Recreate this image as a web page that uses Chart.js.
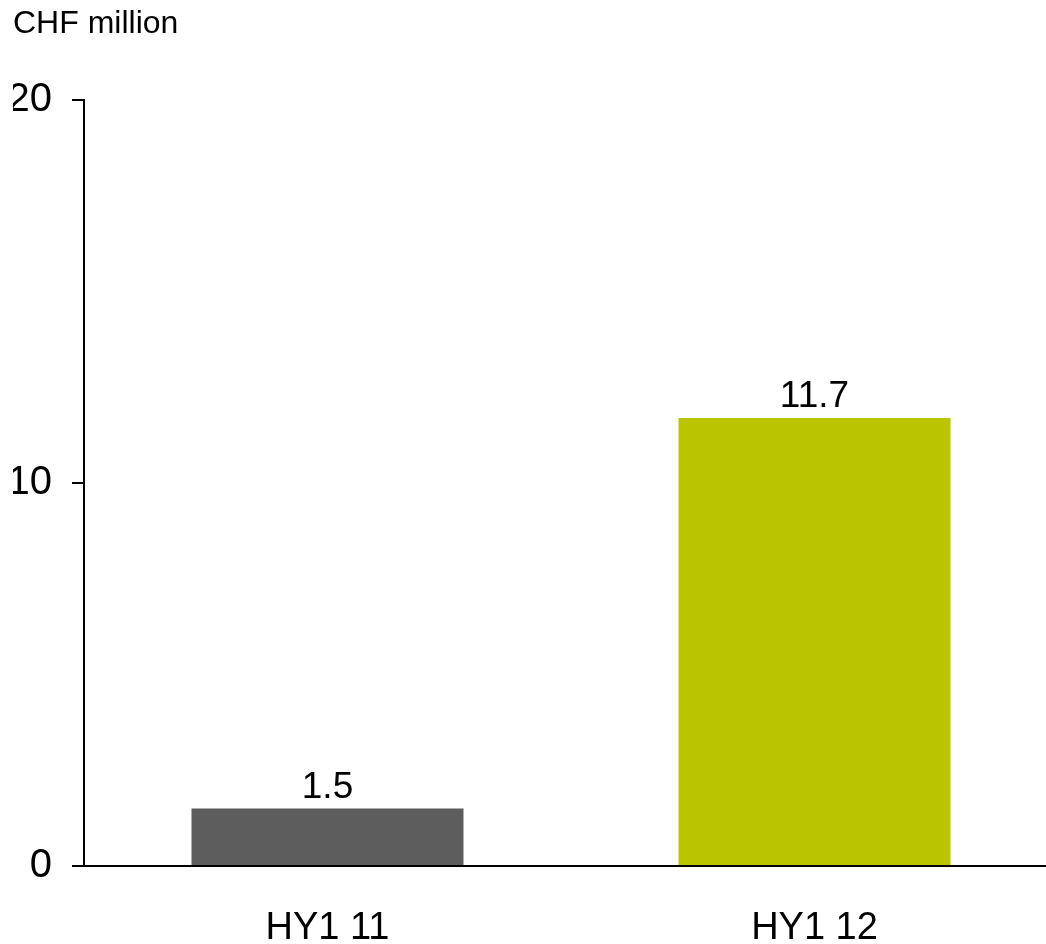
<!DOCTYPE html>
<html>
<head>
<meta charset="utf-8">
<title>CHF million</title>
<script src="https://cdn.jsdelivr.net/npm/chart.js@4"></script>
<style>
  html, body { margin: 0; padding: 0; background: #fff; overflow: hidden; }
  #wrap { position: relative; width: 1060px; height: 944px; }
</style>
</head>
<body>
<div id="wrap"><canvas id="myChart"></canvas></div>
<script>
// half-year results, CHF million
var periods = ['HY1 11', 'HY1 12'];
var values = [1.5, 11.7];
var barColors = ['#5d5d5d', '#bac400'];
var yTicks = [0, 10, 20];

var FONT = "'Liberation Sans', Arial, sans-serif";

// value labels sitting on top of each bar
var valueLabels = {
  id: 'valueLabels',
  afterDatasetsDraw: function(chart) {
    var ctx = chart.ctx;
    var meta = chart.getDatasetMeta(0);
    ctx.save();
    ctx.font = '37px ' + FONT;
    ctx.fillStyle = '#000';
    ctx.textAlign = 'center';
    ctx.textBaseline = 'alphabetic';
    meta.data.forEach(function(bar, i) {
      ctx.fillText(values[i].toFixed(1), bar.x, bar.y - 11);
    });
    ctx.restore();
  }
};

var ctx = document.getElementById('myChart').getContext('2d');
var chart = new Chart(ctx, {
  type: 'bar',
  data: {
    labels: periods,
    datasets: [{
      data: values,
      backgroundColor: barColors,
      borderWidth: 0,
      categoryPercentage: 1,
      barPercentage: 0.5585
    }]
  },
  options: {
    responsive: true,
    maintainAspectRatio: false,
    animation: false,
    layout: { padding: { left: 13, right: 2, top: 0, bottom: 3 } },
    plugins: {
      legend: { display: false },
      tooltip: { enabled: false },
      title: {
        display: true,
        text: 'CHF million',
        align: 'start',
        color: '#000',
        font: { family: FONT, size: 32, weight: 'normal', lineHeight: 1.2 },
        padding: { top: 5, bottom: 57 }
      }
    },
    scales: {
      x: {
        grid: { display: false },
        border: { display: true, color: '#000', width: 2 },
        afterFit: function(scale) { scale.height = 75; },
        ticks: {
          color: '#000',
          padding: 36,
          font: { family: FONT, size: 38, lineHeight: 1 }
        }
      },
      y: {
        min: 0,
        max: 20,
        afterBuildTicks: function(scale) {
          scale.ticks = yTicks.map(function(v) { return { value: v }; });
        },
        afterFit: function(scale) { scale.width = 71; },
        grid: {
          display: true,
          drawOnChartArea: false,
          drawTicks: true,
          tickLength: 12,
          color: '#000',
          lineWidth: 2
        },
        border: { display: true, color: '#000', width: 2 },
        ticks: {
          color: '#000',
          padding: 20,
          font: { family: FONT, size: 40 }
        }
      }
    }
  },
  plugins: [valueLabels]
});
</script>
</body>
</html>
